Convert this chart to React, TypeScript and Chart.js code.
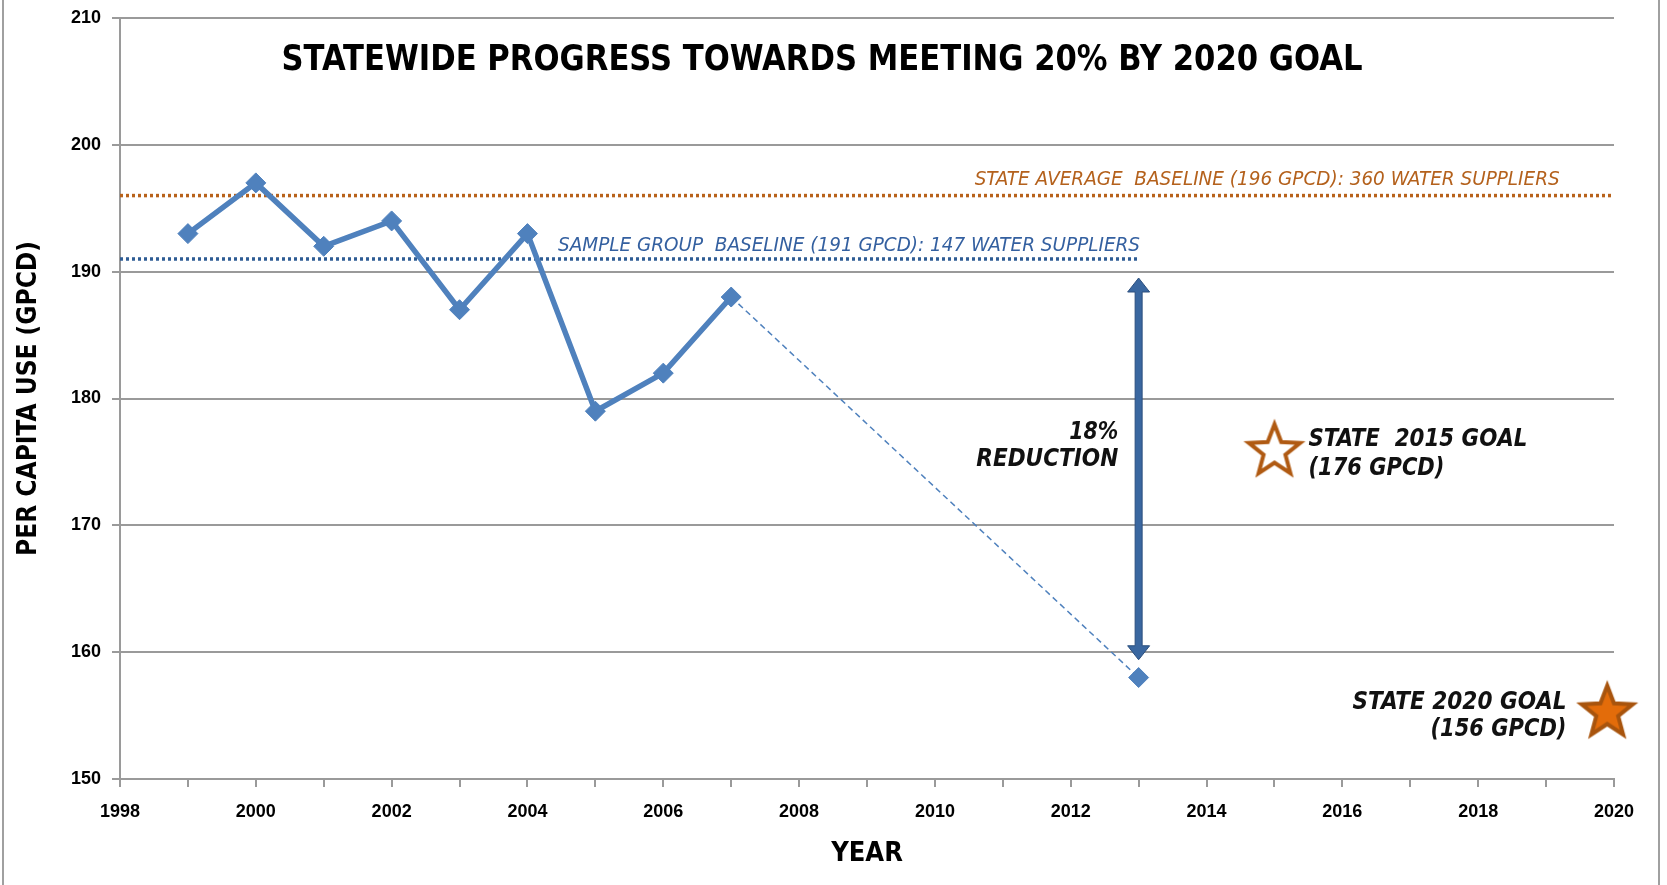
import React, { useEffect, useRef } from 'react';
import { Chart, registerables } from 'chart.js';

Chart.register(...registerables);

// ---------- data ----------
const actualYears = [1999, 2000, 2001, 2002, 2003, 2004, 2005, 2006, 2007];
const actualUse = [193, 197, 192, 194, 187, 193, 179, 182, 188];
const projectionYears = [2007, 2013];
const projectionUse = [188, 158];
const stateBaselineYears = [1998, 2020];
const stateBaselineValue = 196;
const sampleBaselineYears = [1998, 2013];
const sampleBaselineValue = 191;
const goal2015 = { x: 2015, y: 176 };
const goal2020 = { x: 2019.9, y: 155.4 };
const arrowYear = 2013;
const arrowTop = 189.5;
const arrowBottom = 159.4;

const titleText = 'STATEWIDE PROGRESS TOWARDS MEETING 20% BY 2020 GOAL';
const stateBaselineLabel = 'STATE AVERAGE  BASELINE (196 GPCD): 360 WATER SUPPLIERS';
const sampleBaselineLabel = 'SAMPLE GROUP  BASELINE (191 GPCD): 147 WATER SUPPLIERS';
const reductionLabel = ['18%', 'REDUCTION'];
const goal2015Label = ['STATE  2015 GOAL', '(176 GPCD)'];
const goal2020Label = ['STATE 2020 GOAL', '(156 GPCD)'];
const xAxisTitle = 'YEAR';
const yAxisTitle = 'PER CAPITA USE (GPCD)';

const FONT = "'Liberation Sans Narrow', 'DejaVu Sans Condensed', 'Liberation Sans', sans-serif";
const TICK_FONT = "'Liberation Sans', Arial, sans-serif";
const BLUE = '#4f81bd';
const DARK_BLUE = '#3a67a0';
const ORANGE_LINE = '#b8621b';
const GRID = '#9a9a9a';

function makeStar(fill: string, stroke: string, lw: number): HTMLCanvasElement {
  const c = document.createElement('canvas');
  const size = 66;
  c.width = size;
  c.height = size;
  const ctx = c.getContext('2d')!;
  const cx = size / 2, cy = size / 2 + 2;
  const R = 27, r = 11.5;
  ctx.beginPath();
  for (let i = 0; i < 10; i++) {
    const rad = i % 2 === 0 ? R : r;
    const a = -Math.PI / 2 + (i * Math.PI) / 5;
    const px = cx + rad * Math.cos(a);
    const py = cy + rad * Math.sin(a);
    if (i === 0) ctx.moveTo(px, py); else ctx.lineTo(px, py);
  }
  ctx.closePath();
  ctx.fillStyle = fill;
  ctx.fill();
  ctx.lineWidth = lw;
  ctx.lineJoin = 'miter';
  ctx.strokeStyle = stroke;
  ctx.stroke();
  return c;
}

function drawFit(ctx: CanvasRenderingContext2D, text: string, x: number, y: number, font: string,
  color: string, width: number, align: CanvasTextAlign) {
  ctx.save();
  ctx.font = font;
  const w = ctx.measureText(text).width;
  const sx = width / w;
  ctx.translate(x, y);
  ctx.scale(sx, 1);
  ctx.textAlign = align;
  ctx.textBaseline = 'middle';
  ctx.fillStyle = color;
  ctx.fillText(text, 0, 0);
  ctx.restore();
}

const annotationPlugin = {
  id: 'annotations',
  afterDatasetsDraw(chart: any) {
    const ctx: CanvasRenderingContext2D = chart.ctx;
    const xs = chart.scales.x;
    const ys = chart.scales.y;
    // double-headed arrow
    const ax = xs.getPixelForValue(arrowYear);
    const top = ys.getPixelForValue(arrowTop);
    const bot = ys.getPixelForValue(arrowBottom);
    const headH = 14, headW = 11, shaft = 3.5;
    ctx.save();
    ctx.beginPath();
    ctx.moveTo(ax, top);
    ctx.lineTo(ax + headW, top + headH);
    ctx.lineTo(ax + shaft, top + headH);
    ctx.lineTo(ax + shaft, bot - headH);
    ctx.lineTo(ax + headW, bot - headH);
    ctx.lineTo(ax, bot);
    ctx.lineTo(ax - headW, bot - headH);
    ctx.lineTo(ax - shaft, bot - headH);
    ctx.lineTo(ax - shaft, top + headH);
    ctx.lineTo(ax - headW, top + headH);
    ctx.closePath();
    ctx.fillStyle = DARK_BLUE;
    ctx.fill();
    ctx.lineWidth = 1;
    ctx.strokeStyle = '#2b4f7e';
    ctx.stroke();
    ctx.restore();
  },
  afterDraw(chart: any) {
    const ctx: CanvasRenderingContext2D = chart.ctx;
    const xs = chart.scales.x;
    const ys = chart.scales.y;
    const X = (v: number) => xs.getPixelForValue(v);
    const Y = (v: number) => ys.getPixelForValue(v);

    // title
    drawFit(ctx, titleText, 822, 61, `bold 36px ${FONT}`, '#000', 1081, 'center');

    // baseline labels
    drawFit(ctx, stateBaselineLabel, X(2019.2), Y(197.2), `italic 19px ${FONT}`, '#b4611c', 585, 'right');
    drawFit(ctx, sampleBaselineLabel, X(2004.45), Y(192.0), `italic 19px ${FONT}`, '#3460a0', 582, 'left');

    // reduction
    drawFit(ctx, reductionLabel[0], X(2012.7), Y(177.3), `italic bold 25px ${FONT}`, '#111', 49, 'right');
    drawFit(ctx, reductionLabel[1], X(2012.7), Y(175.2), `italic bold 25px ${FONT}`, '#111', 142, 'right');

    // goals
    drawFit(ctx, goal2015Label[0], X(2015.5), Y(176.8), `italic bold 25px ${FONT}`, '#111', 219, 'left');
    drawFit(ctx, goal2015Label[1], X(2015.5), Y(174.5), `italic bold 25px ${FONT}`, '#111', 136, 'left');
    drawFit(ctx, goal2020Label[0], X(2019.3), Y(156.0), `italic bold 25px ${FONT}`, '#111', 214, 'right');
    drawFit(ctx, goal2020Label[1], X(2019.3), Y(153.9), `italic bold 25px ${FONT}`, '#111', 136, 'right');

    // outer frame
    ctx.save();
    ctx.strokeStyle = '#a0a0a0';
    ctx.lineWidth = 2;
    ctx.beginPath();
    ctx.moveTo(3, 0); ctx.lineTo(3, chart.height);
    ctx.moveTo(1659, 0); ctx.lineTo(1659, chart.height);
    ctx.stroke();
    ctx.restore();
  },
};

export default function App() {
  const ref = useRef<HTMLCanvasElement | null>(null);

  useEffect(() => {
    if (!ref.current) return;
    const star2015 = makeStar('#ffffff', '#b05a12', 4);
    const star2020 = makeStar('#e36c0a', '#a8540d', 4);

    const chart = new Chart(ref.current, {
      type: 'scatter',
      data: {
        datasets: [
          {
            label: 'Actual',
            data: actualYears.map((x, i) => ({ x, y: actualUse[i] })),
            showLine: true,
            borderColor: BLUE,
            backgroundColor: BLUE,
            borderWidth: 5.5,
            pointStyle: 'rectRot',
            pointRadius: 10,
            pointBorderWidth: 1,
            pointBorderColor: BLUE,
          },
          {
            label: 'Projection',
            data: projectionYears.map((x, i) => ({ x, y: projectionUse[i] })),
            showLine: true,
            borderColor: BLUE,
            backgroundColor: BLUE,
            borderWidth: 1.5,
            borderDash: [6, 4],
            pointStyle: 'rectRot',
            pointRadius: [0, 10],
            pointBorderWidth: 1,
          },
          {
            label: 'Goal 2015',
            data: [goal2015],
            showLine: false,
            clip: false,
            pointStyle: star2015 as any,
          },
          {
            label: 'Goal 2020',
            data: [goal2020],
            showLine: false,
            clip: false,
            pointStyle: star2020 as any,
          },
          {
            label: 'Sample baseline',
            data: sampleBaselineYears.map((x) => ({ x, y: sampleBaselineValue })),
            showLine: true,
            borderColor: '#2e5c94',
            borderWidth: 3.5,
            borderDash: [3, 3],
            pointRadius: 0,
          },
          {
            label: 'State baseline',
            data: stateBaselineYears.map((x) => ({ x, y: stateBaselineValue })),
            showLine: true,
            borderColor: ORANGE_LINE,
            borderWidth: 3.5,
            borderDash: [3, 3],
            pointRadius: 0,
          },
        ],
      },
      options: {
        animation: false,
        responsive: false,
        devicePixelRatio: 1,
        layout: { padding: { top: 18, right: 53, left: 0, bottom: 0 } },
        plugins: {
          legend: { display: false },
          tooltip: { enabled: false },
        },
        scales: {
          x: {
            type: 'linear',
            min: 1998,
            max: 2020,
            afterFit: (s: any) => { s.height = 106; },
            ticks: {
              stepSize: 1,
              autoSkip: false,
              maxRotation: 0,
              padding: 14,
              color: '#000',
              font: { family: TICK_FONT, size: 18, weight: 'bold' },
              callback: (v: any) => (Number(v) % 2 === 0 ? String(v) : ''),
            },
            grid: { drawOnChartArea: false, tickLength: 8, color: GRID, lineWidth: 2 },
            border: { color: GRID, width: 2 },
            title: {
              display: true,
              text: xAxisTitle,
              color: '#000',
              font: { family: FONT, size: 27, weight: 'bold' },
              padding: { top: 0, bottom: 15 },
            },
          },
          y: {
            min: 150,
            max: 210,
            afterFit: (s: any) => { s.width = 120; s.paddingTop = 0; },
            ticks: {
              stepSize: 10,
              padding: 11,
              color: '#000',
              font: { family: TICK_FONT, size: 18, weight: 'bold', lineHeight: 1 },
            },
            grid: { tickLength: 8, color: GRID, lineWidth: 2 },
            border: { color: GRID, width: 2 },
            title: {
              display: true,
              text: yAxisTitle,
              color: '#000',
              font: { family: FONT, size: 26, weight: 'bold' },
              padding: { top: 14, bottom: 0 },
            },
          },
        },
      },
      plugins: [annotationPlugin],
    } as any);

    return () => chart.destroy();
  }, []);

  return (
    <div style={{ position: 'fixed', left: 0, top: 0, width: 1667, height: 885, background: '#fff' }}>
      <canvas ref={ref} width={1667} height={885} style={{ width: 1667, height: 885, display: 'block' }} />
    </div>
  );
}
